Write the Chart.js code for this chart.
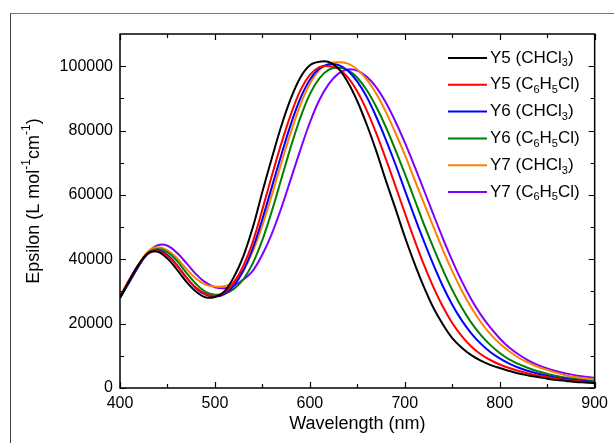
<!DOCTYPE html>
<html><head><meta charset="utf-8">
<script src="https://cdn.jsdelivr.net/npm/chart.js@4/dist/chart.umd.min.js"></script>
<style>
html,body{margin:0;padding:0;background:#fff;}
#wrap{position:relative;width:614px;height:443px;overflow:hidden;}
#frame{position:absolute;left:10px;top:13px;width:700px;height:600px;border-left:1px solid #444;border-top:1px solid #7a7a7a;pointer-events:none;}
canvas{position:absolute;left:0;top:0;}
</style></head><body>
<div id="wrap"><div id="frame"></div><canvas id="c" width="614" height="443"></canvas></div>
<script>
const wavelengths = [400,410,420,430,440,450,460,470,480,490,500,510,520,530,540,550,560,570,580,590,600,610,620,630,640,650,660,670,680,690,700,710,720,730,740,750,760,770,780,790,800,810,820,830,840,850,860,870,880,890,900];

const y5CHCl3 = [28000,33500,38500,42000,42300,40200,36800,33000,30000,28200,28300,30000,34500,41000,50000,61000,71500,81500,90000,96500,100300,101400,101300,99300,95000,89100,81800,73600,64500,55900,47000,38900,31500,25000,19800,15500,12500,10200,8500,7200,6200,5300,4500,3900,3400,2900,2500,2200,1900,1700,1500];
const y5C6H5Cl = [28500,33800,38500,41900,42500,41000,38000,34300,31200,29200,28600,29600,32800,38000,45500,55500,66000,76000,85000,92500,97300,99700,100000,99200,96500,92100,86200,79100,71200,62900,54400,46200,38400,31400,25300,20200,16100,12900,10500,8700,7300,6200,5300,4500,3900,3400,2900,2500,2200,1900,1700];
const y6CHCl3 = [28000,33200,38200,41800,42700,41300,38200,34300,31000,29000,28400,29200,31800,36500,43500,52500,62500,72500,82000,90000,95800,99300,100500,100400,98600,95200,90400,84200,77200,69600,61500,53400,45700,38400,31700,25900,21000,17000,13800,11200,9200,7600,6300,5300,4500,3800,3200,2800,2400,2100,1900];
const y6C6H5Cl = [28000,33000,38200,42100,43200,42200,39500,35800,32400,29900,29000,29300,30800,33800,38800,46000,55000,65000,75000,84000,91300,96200,98900,99600,98800,96400,92500,87300,81100,74100,66600,58800,51000,43700,36800,30500,25000,20300,16500,13400,10900,8900,7400,6200,5200,4400,3700,3200,2800,2400,2100];
const y7CHCl3 = [28500,33500,38600,42600,43700,42800,40300,37000,34000,32100,31500,31600,33000,36500,42500,50500,60000,70000,79500,88000,94500,98800,100800,101200,100800,99000,95800,91400,85800,79400,72500,65000,57500,50200,43000,36300,30300,25000,20500,16800,13800,11400,9400,7900,6600,5600,4700,3900,3400,3000,2700];
const y7C6H5Cl = [28500,33000,38000,42300,44400,44200,42000,38800,35400,32800,31300,31000,31800,33700,36500,41500,48000,56000,65000,74000,82500,89500,94500,97700,99000,98600,96700,93400,88700,82900,76300,69100,61600,54000,46600,39600,33200,27600,22800,18800,15400,12600,10400,8600,7200,6100,5200,4500,3900,3500,3200];

const seriesLabels = ["Y5 (CHCl_{3})","Y5 (C_{6}H_{5}Cl)","Y6 (CHCl_{3})","Y6 (C_{6}H_{5}Cl)","Y7 (CHCl_{3})","Y7 (C_{6}H_{5}Cl)"];
const seriesValues = [y5CHCl3,y5C6H5Cl,y6CHCl3,y6C6H5Cl,y7CHCl3,y7C6H5Cl];
const seriesColors = ["#000000","#ff0000","#0000ff","#008000","#ff8000","#8000ff"];

const xTickValues = [400,500,600,700,800,900];
const xMinorValues = [450,550,650,750,850];
const yTickValues = [0,20000,40000,60000,80000,100000];
const yMinorValues = [10000,30000,50000,70000,90000];
const xTitle = "Wavelength (nm)";
const yTitle = "Epsilon (L mol^{-1}cm^{-1})";

const FONT = '"Liberation Sans", Arial, Helvetica, sans-serif';

function parseRich(s){
  const out=[]; const re=/([_^])\{([^}]*)\}/g; let last=0,m;
  while((m=re.exec(s))){ if(m.index>last) out.push({t:s.slice(last,m.index),k:''}); out.push({t:m[2],k:m[1]}); last=re.lastIndex; }
  if(last<s.length) out.push({t:s.slice(last),k:''});
  return out;
}
function richWidth(ctx,segs,size){
  let w=0; for(const sg of segs){ ctx.font=(sg.k?Math.round(size*0.65):size)+'px '+FONT; w+=ctx.measureText(sg.t).width; } return w;
}
function drawRich(ctx,segs,x,y,size){
  ctx.textBaseline='middle'; ctx.textAlign='left';
  for(const sg of segs){
    const fs = sg.k?Math.round(size*0.65):size;
    ctx.font=fs+'px '+FONT;
    const dy = sg.k==='_'? size*0.32 : (sg.k==='^'? -size*0.38 : 0);
    ctx.fillText(sg.t,x,y+dy);
    x+=ctx.measureText(sg.t).width;
  }
}

const decorPlugin = {
  id:'decor',
  afterDatasetsDraw(chart){
    const {ctx, chartArea:a, scales:{x,y}} = chart;
    ctx.save();
    ctx.strokeStyle='#000';
    ctx.lineWidth=1.2;
    ctx.beginPath();
    const tick=(vals,len)=>{
      for(const v of vals){ const p=Math.round(x.getPixelForValue(v))+0.5;
        ctx.moveTo(p,a.bottom); ctx.lineTo(p,a.bottom-len); ctx.moveTo(p,a.top); ctx.lineTo(p,a.top+len); }
    };
    const ytick=(vals,len)=>{
      for(const v of vals){ const p=Math.round(y.getPixelForValue(v))+0.5;
        ctx.moveTo(a.left,p); ctx.lineTo(a.left+len,p); ctx.moveTo(a.right,p); ctx.lineTo(a.right-len,p); }
    };
    tick(xTickValues,6); tick(xMinorValues,4); ytick(yTickValues,6); ytick(yMinorValues,4);
    ctx.stroke();
    ctx.lineWidth=1.5;
    ctx.strokeRect(a.left,a.top,a.right-a.left,a.bottom-a.top);
    // legend
    ctx.fillStyle='#000';
    for(let i=0;i<seriesLabels.length;i++){
      const ly = 58 + i*26.8;
      ctx.strokeStyle=seriesColors[i]; ctx.lineWidth=2;
      ctx.beginPath(); ctx.moveTo(448,ly); ctx.lineTo(487,ly); ctx.stroke();
      ctx.fillStyle='#000';
      drawRich(ctx,parseRich(seriesLabels[i]),490,ly,17);
    }
    // x title
    const xs=parseRich(xTitle); const xw=richWidth(ctx,xs,18);
    drawRich(ctx,xs,(a.left+a.right)/2 - xw/2, 424, 18);
    // y title
    const ys=parseRich(yTitle); const yw=richWidth(ctx,ys,18);
    ctx.translate(34,(a.top+a.bottom)/2 - 10);
    ctx.rotate(-Math.PI/2);
    drawRich(ctx,ys,-yw/2,0,18);
    ctx.restore();
  }
};

new Chart(document.getElementById('c'),{
  type:'line',
  data:{
    datasets: seriesValues.map((vals,i)=>({
      label: seriesLabels[i],
      data: vals.map((v,j)=>({x:wavelengths[j],y:v})),
      borderColor: seriesColors[i],
      backgroundColor: seriesColors[i],
      borderWidth: 2,
      pointRadius: 0,
      tension: 0.35,
      fill: false
    }))
  },
  options:{
    responsive:false,
    animation:false,
    devicePixelRatio:1,
    layout:{padding:{left:0,right:18,top:34,bottom:0}},
    plugins:{legend:{display:false},tooltip:{enabled:false}},
    scales:{
      x:{
        type:'linear', min:400, max:900,
        grid:{display:false, drawTicks:false},
        border:{display:false},
        afterBuildTicks:s=>{ s.ticks = xTickValues.map(v=>({value:v})); },
        afterFit:s=>{ s.height = 55; },
        ticks:{color:'#000', font:{family:FONT,size:16}, padding:6, maxRotation:0, callback:v=>String(v)}
      },
      y:{
        type:'linear', min:0, max:110000,
        grid:{display:false, drawTicks:false},
        border:{display:false},
        afterBuildTicks:s=>{ s.ticks = yTickValues.map(v=>({value:v})); },
        afterFit:s=>{ s.width = 120; },
        ticks:{color:'#000', font:{family:FONT,size:16}, padding:7, callback:v=>String(v)}
      }
    }
  },
  plugins:[decorPlugin]
});
</script>
</body></html>
